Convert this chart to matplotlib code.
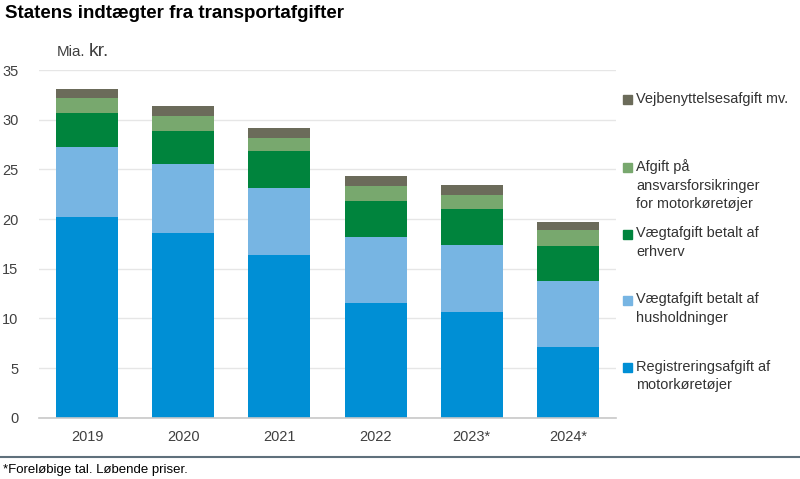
import numpy as np
import matplotlib.pyplot as plt
from matplotlib import font_manager
from matplotlib.patches import Rectangle
from matplotlib.lines import Line2D

plt.rcParams['font.family'] = ['Liberation Sans', 'DejaVu Sans']

# smal skrift hvis den findes (Excel-agtig look)
try:
    font_manager.findfont('Liberation Sans Narrow', fallback_to_default=False)
    NARROW = ['Liberation Sans Narrow', 'DejaVu Sans']
    scale = 1.0
except Exception:
    NARROW = ['Liberation Sans', 'DejaVu Sans']
    scale = 0.87

# data (mia. kr.)
years = ['2019', '2020', '2021', '2022', '2023*', '2024*']
registrering = [20.2, 18.6, 16.35, 11.5, 10.65, 7.15]
husholdninger = [7.05, 6.9, 6.8, 6.7, 6.7, 6.6]
erhverv = [3.4, 3.4, 3.65, 3.65, 3.65, 3.55]
ansvar = [1.5, 1.5, 1.4, 1.5, 1.45, 1.55]
vejbenyttelse = [0.9, 0.95, 1.0, 0.97, 1.0, 0.87]

series = [registrering, husholdninger, erhverv, ansvar, vejbenyttelse]
colors = ['#008fd5', '#77b5e3', '#00843d', '#78a86e', '#6b6b5a']
labels = ['Registreringsafgift af\nmotorkøretøjer',
          'Vægtafgift betalt af\nhusholdninger',
          'Vægtafgift betalt af\nerhverv',
          'Afgift på\nansvarsforsikringer\nfor motorkøretøjer',
          'Vejbenyttelsesafgift mv.']

W, H = 800, 479
fig = plt.figure(figsize=(W / 100, H / 100), dpi=100)
ax = fig.add_axes([39 / W, 1 - 417.7 / H, (616 - 39) / W, (417.7 - 70) / H])

x = np.arange(len(years))
bottom = np.zeros(len(years))
for vals, c in zip(series, colors):
    ax.bar(x, vals, 0.645, bottom=bottom, color=c, zorder=2)
    bottom += np.array(vals)

ax.set_xlim(-0.5, len(years) - 0.5)
ax.set_ylim(0, 35)
ax.set_yticks(np.arange(0, 36, 5))
ax.set_xticks(x)
ax.set_xticklabels(years)
ax.tick_params(length=0, labelcolor='#404040')
ax.tick_params(axis='x', pad=9)
ax.tick_params(axis='y', pad=15)
for lbl in ax.get_xticklabels() + ax.get_yticklabels():
    lbl.set_family(NARROW)
    lbl.set_fontsize(12 * scale)
ax.grid(axis='y', color='#e6e6e6', linewidth=1, zorder=0)
for s in ['top', 'right', 'left']:
    ax.spines[s].set_visible(False)
ax.spines['bottom'].set_color('#c8c8c8')
ax.spines['bottom'].set_linewidth(1.2)

# titel og enhed
fig.text(5 / W, 1 - 13 / H, 'Statens indtægter fra transportafgifter',
         fontsize=13.5, fontweight='bold', va='center', ha='left', color='black')
fig.text(57 / W, 1 - 52 / H, 'Mia.', fontsize=12.5 * scale, family=NARROW,
         va='center', ha='left', color='#404040')
fig.text(89 / W, 1 - 51 / H, 'kr.', fontsize=16 * scale, family=NARROW,
         va='center', ha='left', color='#404040')

# forklaring tegnet manuelt (oppefra og ned)
leg_y = [99, 167, 234, 300, 367.5]
for lab, c, yy in zip(labels[::-1], colors[::-1], leg_y):
    fig.patches.append(Rectangle((622.5 / W, 1 - (yy + 4.5) / H), 9 / W, 9 / H,
                                 transform=fig.transFigure, color=c))
    fig.text(636 / W, 1 - (yy - 7.5) / H, lab, fontsize=12 * scale, family=NARROW,
             va='top', ha='left', color='#333333', linespacing=1.4)

# bundlinje og fodnote
fig.add_artist(Line2D([0, 1], [1 - 456.5 / H] * 2, transform=fig.transFigure,
                      color='#5f707c', linewidth=1.5))
fig.text(3 / W, 1 - 470 / H, '*Foreløbige tal. Løbende priser.', fontsize=9.5,
         va='center', ha='left', color='black')

fig.savefig('out.png', dpi=100, facecolor='white')
